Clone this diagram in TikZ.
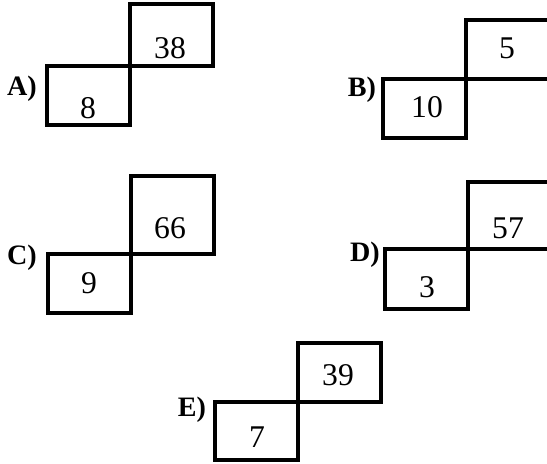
\documentclass[tikz,border=0pt]{standalone}
\usepackage{fontspec}
\setmainfont{Liberation Serif}
\usepackage{tikz}
\usetikzlibrary{positioning}

\begin{document}
\begin{tikzpicture}[
  x=0.02cm, y=-0.02cm,
  cell/.style={rectangle,draw=black,line width=1.8pt,inner sep=0pt,outer sep=0pt,minimum width=1.66cm},
  num/.style={font=\fontsize{18}{20}\selectfont},
  lbl/.style={font=\fontsize{16}{18}\selectfont\bfseries},
]
\clip (0,0) rectangle (547,463);

% A
\node[cell,minimum height=1.18cm,anchor=north west] (Alow) at (47,66) {};
\node[cell,minimum height=1.24cm,anchor=south west] (Aup) at (Alow.north east) {};
\node[num] (Anum1) at (170,48) {38};
\node[num] (Anum2) at (88,108) {8};
\node[lbl] (Alab) at (22,89) {A)};

% B
\node[cell,minimum height=1.18cm,anchor=north west] (Blow) at (383,79) {};
\node[cell,minimum height=1.18cm,anchor=south west] (Bup) at (Blow.north east) {};
\node[num] (Bnum1) at (507,48) {5};
\node[num] (Bnum2) at (427,107) {10};
\node[lbl] (Blab) at (362,90) {B)};

% C
\node[cell,minimum height=1.18cm,anchor=north west] (Clow) at (48,254) {};
\node[cell,minimum height=1.56cm,anchor=south west] (Cup) at (Clow.north east) {};
\node[num] (Cnum1) at (170,228) {66};
\node[num] (Cnum2) at (89,283) {9};
\node[lbl] (Clab) at (22,258) {C)};

% D
\node[cell,minimum height=1.2cm,anchor=north west] (Dlow) at (385,249) {};
\node[cell,minimum height=1.34cm,anchor=south west] (Dup) at (Dlow.north east) {};
\node[num] (Dnum1) at (508,228) {57};
\node[num] (Dnum2) at (427,287) {3};
\node[lbl] (Dlab) at (365,255) {D)};

% E
\node[cell,minimum height=1.16cm,anchor=north west] (Elow) at (215,402) {};
\node[cell,minimum height=1.18cm,anchor=south west] (Eup) at (Elow.north east) {};
\node[num] (Enum1) at (338,375) {39};
\node[num] (Enum2) at (257,437) {7};
\node[lbl] (Elab) at (192,410) {E)};
\end{tikzpicture}
\end{document}
